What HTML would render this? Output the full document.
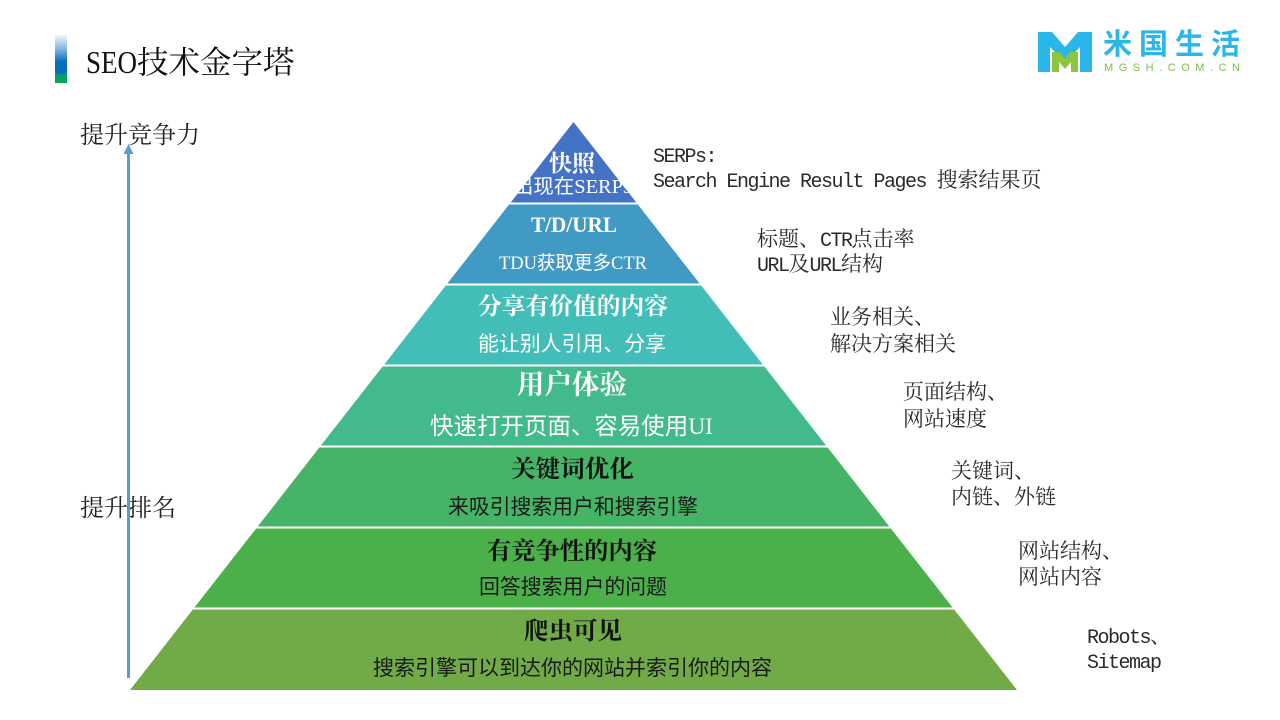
<!DOCTYPE html>
<html><head><meta charset="utf-8"><style>
html,body{margin:0;padding:0;background:#fff;}
body{width:1280px;height:720px;overflow:hidden;}
svg{display:block;}
.t{font-family:"Noto Serif CJK SC","Liberation Serif",serif;font-weight:700;}
.s{font-family:"Liberation Serif","Noto Sans CJK SC",sans-serif;}
.a{font-family:"Liberation Mono","Noto Serif CJK SC",serif;fill:#2a2a2a;font-size:21px;}
.m{font-family:"Liberation Mono",monospace;font-size:20px;letter-spacing:-1.5px;}
.c{font-family:"Noto Serif CJK SC",serif;font-size:21px;}
</style></head><body>
<svg width="1280" height="720" viewBox="0 0 1280 720" xmlns="http://www.w3.org/2000/svg">
<defs>
<linearGradient id="bar" x1="0" y1="0" x2="0" y2="1">
<stop offset="0" stop-color="#f2f7fc"/>
<stop offset="0.3" stop-color="#7fb3e0"/>
<stop offset="0.55" stop-color="#0a6fc1"/>
<stop offset="0.78" stop-color="#0b6dbb"/>
<stop offset="0.84" stop-color="#04a066"/>
<stop offset="1" stop-color="#00a650"/>
</linearGradient>
</defs>

<!-- title bar -->
<rect x="55" y="35" width="12" height="48" fill="url(#bar)"/>
<text x="86" y="73" font-size="31.5" fill="#111"><tspan font-family="Liberation Serif" textLength="51" lengthAdjust="spacingAndGlyphs">SEO</tspan><tspan font-family="Noto Serif CJK SC">技术金字塔</tspan></text>

<!-- logo -->
<polygon points="1038,32 1052,32 1065,47 1078,32 1092,32 1092,72 1080,72 1080,47 1065,63 1050,47 1050,72 1038,72" fill="#2bb6e9"/>
<polygon points="1052,52 1060,52 1065,59 1070,52 1078,52 1078,72 1071,72 1071,62 1065,69 1059,62 1059,72 1052,72" fill="#8cc63f"/>
<text x="1103" y="54" font-family="Noto Sans CJK SC" font-weight="700" font-size="29" fill="#2bb6e9" textLength="137" lengthAdjust="spacing">米国生活</text>
<text x="1104" y="71" font-family="Liberation Sans" font-size="11" fill="#7cc04b" textLength="136" lengthAdjust="spacing">MGSH.COM.CN</text>

<!-- left labels & arrow -->
<text x="80" y="143" font-family="Noto Serif CJK SC" font-size="24" fill="#222">提升竞争力</text>
<text x="80" y="516" font-family="Noto Serif CJK SC" font-size="24" fill="#222">提升排名</text>
<rect x="127" y="151" width="3" height="527" fill="#5b9bd5"/>
<polygon points="128.5,144 123.5,154 133.5,154" fill="#5b9bd5"/>

<!-- pyramid -->
<polygon points="573.5,122 636.7,203 510.3,203" fill="#4472c4"/>
<polygon points="510.3,203 636.7,203 700,284 447,284" fill="#409ac4"/>
<polygon points="447,284 700,284 763.2,365 383.8,365" fill="#43bdb8"/>
<polygon points="383.8,365 763.2,365 826.5,446 320.5,446" fill="#43ba8b"/>
<polygon points="320.5,446 826.5,446 889.7,527 257.3,527" fill="#46b466"/>
<polygon points="257.3,527 889.7,527 953,608 194,608" fill="#4bb04a"/>
<polygon points="194,608 953,608 1017,690 130,690" fill="#71ab48"/>
<g stroke="#fff" stroke-width="2">
<line x1="480" y1="203.5" x2="670" y2="203.5"/>
<line x1="420" y1="284.5" x2="730" y2="284.5"/>
<line x1="360" y1="365.5" x2="790" y2="365.5"/>
<line x1="300" y1="446.5" x2="850" y2="446.5"/>
<line x1="240" y1="527.5" x2="910" y2="527.5"/>
<line x1="180" y1="608.5" x2="970" y2="608.5"/>
</g>

<g text-anchor="middle">
<text class="t" x="572" y="171" font-size="23" fill="#fff">快照</text>
<text x="572" y="193" font-size="20" fill="#fff" textLength="118" lengthAdjust="spacingAndGlyphs"><tspan font-family="Noto Sans CJK SC">出现在</tspan><tspan font-family="Liberation Serif">SERPs</tspan></text>

<text x="574" y="232" font-family="Liberation Serif" font-weight="700" font-size="22" fill="#fff" textLength="86" lengthAdjust="spacingAndGlyphs">T/D/URL</text>
<text x="573" y="269" font-size="19" fill="#fff" textLength="148" lengthAdjust="spacingAndGlyphs"><tspan font-family="Liberation Serif">TDU</tspan><tspan font-family="Noto Sans CJK SC">获取更多</tspan><tspan font-family="Liberation Serif">CTR</tspan></text>

<text class="t" x="573" y="314" font-size="23.5" fill="#fff" textLength="190" lengthAdjust="spacingAndGlyphs">分享有价值的内容</text>
<text x="572" y="351" font-family="Noto Sans CJK SC" font-size="21" fill="#fff" textLength="188" lengthAdjust="spacingAndGlyphs">能让别人引用、分享</text>

<text class="t" x="572" y="394" font-size="27" fill="#fff" textLength="110" lengthAdjust="spacingAndGlyphs">用户体验</text>
<text x="571.5" y="434" font-size="23.5" fill="#fff" textLength="283" lengthAdjust="spacingAndGlyphs"><tspan font-family="Noto Sans CJK SC">快速打开页面、容易使用</tspan><tspan font-family="Liberation Serif">UI</tspan></text>

<text class="t" x="572.5" y="477" font-size="24" fill="#111" textLength="123" lengthAdjust="spacingAndGlyphs">关键词优化</text>
<text x="573" y="514" font-family="Noto Sans CJK SC" font-size="21" fill="#1a1a1a" textLength="250" lengthAdjust="spacingAndGlyphs">来吸引搜索用户和搜索引擎</text>

<text class="t" x="572" y="559" font-size="24" fill="#111" textLength="170" lengthAdjust="spacingAndGlyphs">有竞争性的内容</text>
<text x="573" y="594" font-family="Noto Sans CJK SC" font-size="21" fill="#1a1a1a" textLength="188" lengthAdjust="spacingAndGlyphs">回答搜索用户的问题</text>

<text class="t" x="573" y="639" font-size="24" fill="#111" textLength="98" lengthAdjust="spacingAndGlyphs">爬虫可见</text>
<text x="572.5" y="675" font-family="Noto Sans CJK SC" font-size="21" fill="#1a1a1a" textLength="399" lengthAdjust="spacingAndGlyphs">搜索引擎可以到达你的网站并索引你的内容</text>
</g>

<!-- annotations -->
<text class="a" x="653" y="162"><tspan class="m">SERPs:</tspan></text>
<text class="a" x="653" y="187"><tspan class="m">Search Engine Result Pages </tspan><tspan class="c">搜索结果页</tspan></text>

<text class="a" x="757" y="246"><tspan class="c">标题、</tspan><tspan class="m">CTR</tspan><tspan class="c">点击率</tspan></text>
<text class="a" x="757" y="271"><tspan class="m">URL</tspan><tspan class="c">及</tspan><tspan class="m">URL</tspan><tspan class="c">结构</tspan></text>

<text class="a c" x="830" y="324">业务相关、</text>
<text class="a c" x="830" y="351">解决方案相关</text>

<text class="a c" x="903" y="399">页面结构、</text>
<text class="a c" x="903" y="426">网站速度</text>

<text class="a c" x="951" y="478">关键词、</text>
<text class="a c" x="951" y="504">内链、外链</text>

<text class="a c" x="1018" y="558">网站结构、</text>
<text class="a c" x="1018" y="584">网站内容</text>

<text class="a" x="1087" y="643"><tspan class="m">Robots</tspan><tspan class="c">、</tspan></text>
<text class="a" x="1087" y="668"><tspan class="m">Sitemap</tspan></text>
</svg>
</body></html>
